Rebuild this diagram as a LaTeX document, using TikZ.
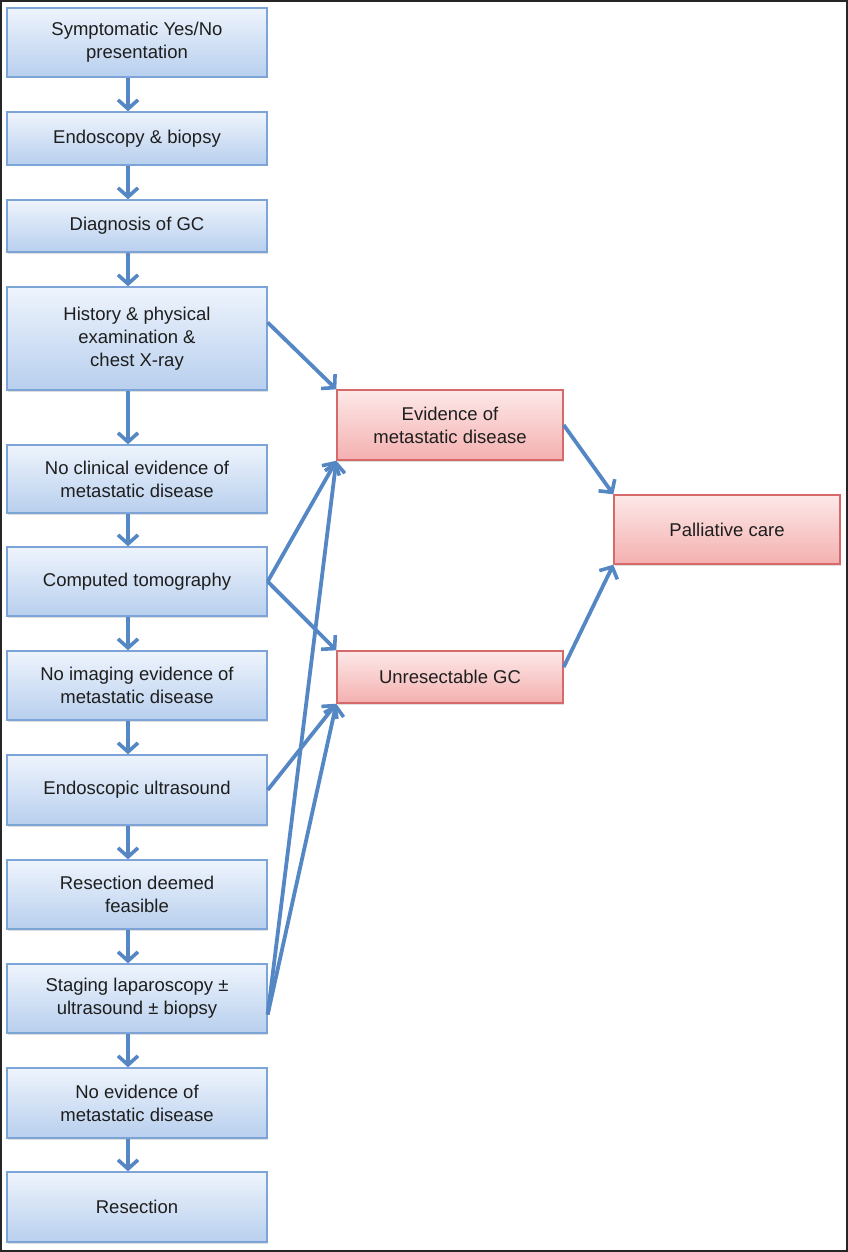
\documentclass[tikz,border=0pt]{standalone}
\usepackage{fontspec}
\setmainfont{Liberation Sans}
\usetikzlibrary{arrows.meta,shadows}
\definecolor{arr}{RGB}{84,135,196}
\definecolor{bluetop}{RGB}{238,244,252}
\definecolor{bluebot}{RGB}{184,207,238}
\definecolor{blueedge}{RGB}{124,164,214}
\definecolor{redtop}{RGB}{253,232,232}
\definecolor{redbot}{RGB}{244,176,176}
\definecolor{rededge}{RGB}{214,106,106}
\definecolor{txt}{RGB}{30,30,30}
\begin{document}
\begin{tikzpicture}[x=1pt,y=-1pt,
  boxbase/.style={rectangle, align=center, text=txt,
    font=\fontsize{18.5}{23}\selectfont, line width=1.4pt,
    drop shadow={shadow xshift=1pt, shadow yshift=-1.5pt, opacity=0.25}},
  bluebox/.style={boxbase, draw=blueedge, top color=bluetop, bottom color=bluebot,
    minimum width=260pt},
  redbox/.style={boxbase, draw=rededge, top color=redtop, bottom color=redbot,
    minimum width=226pt},
  conn/.style={draw=arr, line width=3.8pt,
    -{Straight Barb[length=9pt,width=20pt,line width=3.6pt]}}
]
\useasboundingbox (0,0) rectangle (848,1252);
\draw[line width=1.5pt, draw=black!85] (1,1) rectangle (847,1251);

\node[bluebox, minimum height=69pt] (b1) at (137,42.5) {Symptomatic Yes/No\\presentation};
\node[bluebox, minimum height=53pt] (b2) at (137,138.5) {Endoscopy \& biopsy};
\node[bluebox, minimum height=52pt] (b3) at (137,226) {Diagnosis of GC};
\node[bluebox, minimum height=103pt] (b4) at (137,338.5) {History \& physical\\examination \&\\chest X-ray};
\node[bluebox, minimum height=68pt] (b5) at (137,479) {No clinical evidence of\\metastatic disease};
\node[bluebox, minimum height=69pt] (b6) at (137,581.5) {Computed tomography};
\node[bluebox, minimum height=69pt] (b7) at (137,685.5) {No imaging evidence of\\metastatic disease};
\node[bluebox, minimum height=70pt] (b8) at (137,790) {Endoscopic ultrasound};
\node[bluebox, minimum height=69pt] (b9) at (137,894.5) {Resection deemed\\feasible};
\node[bluebox, minimum height=69pt] (b10) at (137,998.5) {Staging laparoscopy ±\\ultrasound ± biopsy};
\node[bluebox, minimum height=70pt] (b11) at (137,1103) {No evidence of\\metastatic disease};
\node[bluebox, minimum height=70pt] (b12) at (137,1207) {Resection};

\node[redbox, minimum height=70pt] (ev) at (450,425) {Evidence of\\metastatic disease};
\node[redbox, minimum height=52pt] (un) at (450,677) {Unresectable GC};
\node[redbox, minimum height=69pt] (pc) at (727,529.5) {Palliative care};

\foreach \a/\b in {b1/b2,b2/b3,b3/b4,b4/b5,b5/b6,b6/b7,b7/b8,b8/b9,b9/b10,b10/b11,b11/b12}
  \draw[conn] ([xshift=-9pt]\a.south) -- ([xshift=-9pt]\b.north);

\draw[conn] ([yshift=16pt]b4.east) -- (ev.north west);
\draw[conn] (b6.east) -- (ev.south west);
\draw[conn] (b6.east) -- (un.north west);
\draw[conn] (b8.east) -- (un.south west);
\draw[conn] ([yshift=-16pt]b10.east) -- (ev.south west);
\draw[conn] ([yshift=-16pt]b10.east) -- (un.south west);
\draw[conn] (ev.east) -- (pc.north west);
\draw[conn] ([yshift=10pt]un.east) -- (pc.south west);
\end{tikzpicture}
\end{document}
